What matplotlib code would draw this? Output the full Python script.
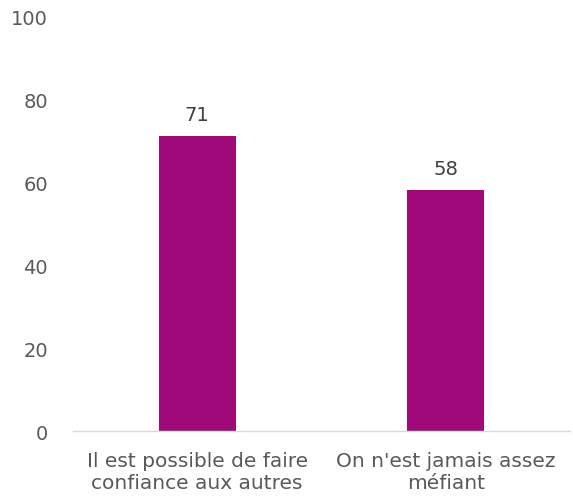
import matplotlib
matplotlib.use('Agg')
import matplotlib.pyplot as plt

# Data
categories = ['Il est possible de faire\nconfiance aux autres', "On n'est jamais assez\nméfiant"]
values = [71, 58]
yticks = [0, 20, 40, 60, 80, 100]

bar_color = '#A0097A'
text_color = '#595959'

plt.rcParams['font.family'] = ['DejaVu Sans']

fig = plt.figure(figsize=(5.73, 5.02), dpi=100)
ax = fig.add_axes([0.127, 0.139, 0.868, 0.827])

x = range(len(categories))
bars = ax.bar(x, values, width=0.31, color=bar_color, zorder=2)

for b, v in zip(bars, values):
    ax.text(b.get_x() + b.get_width() / 2, v + 3, f'{v}', ha='center', va='bottom',
            fontsize=14, color='#404040')

ax.set_xlim(-0.5, 1.5)
ax.set_ylim(0, 100)
ax.set_yticks(yticks)
ax.set_xticks(list(x))
ax.set_xticklabels(categories, fontsize=14.5, color=text_color, linespacing=1.2)
ax.tick_params(axis='y', length=0, labelsize=14, labelcolor=text_color, pad=18)
ax.tick_params(axis='x', length=0, pad=14)

for s in ['top', 'right', 'left']:
    ax.spines[s].set_visible(False)
ax.spines['bottom'].set_color('#D9D9D9')
ax.spines['bottom'].set_linewidth(1.0)

fig.savefig('out.png', dpi=100)
